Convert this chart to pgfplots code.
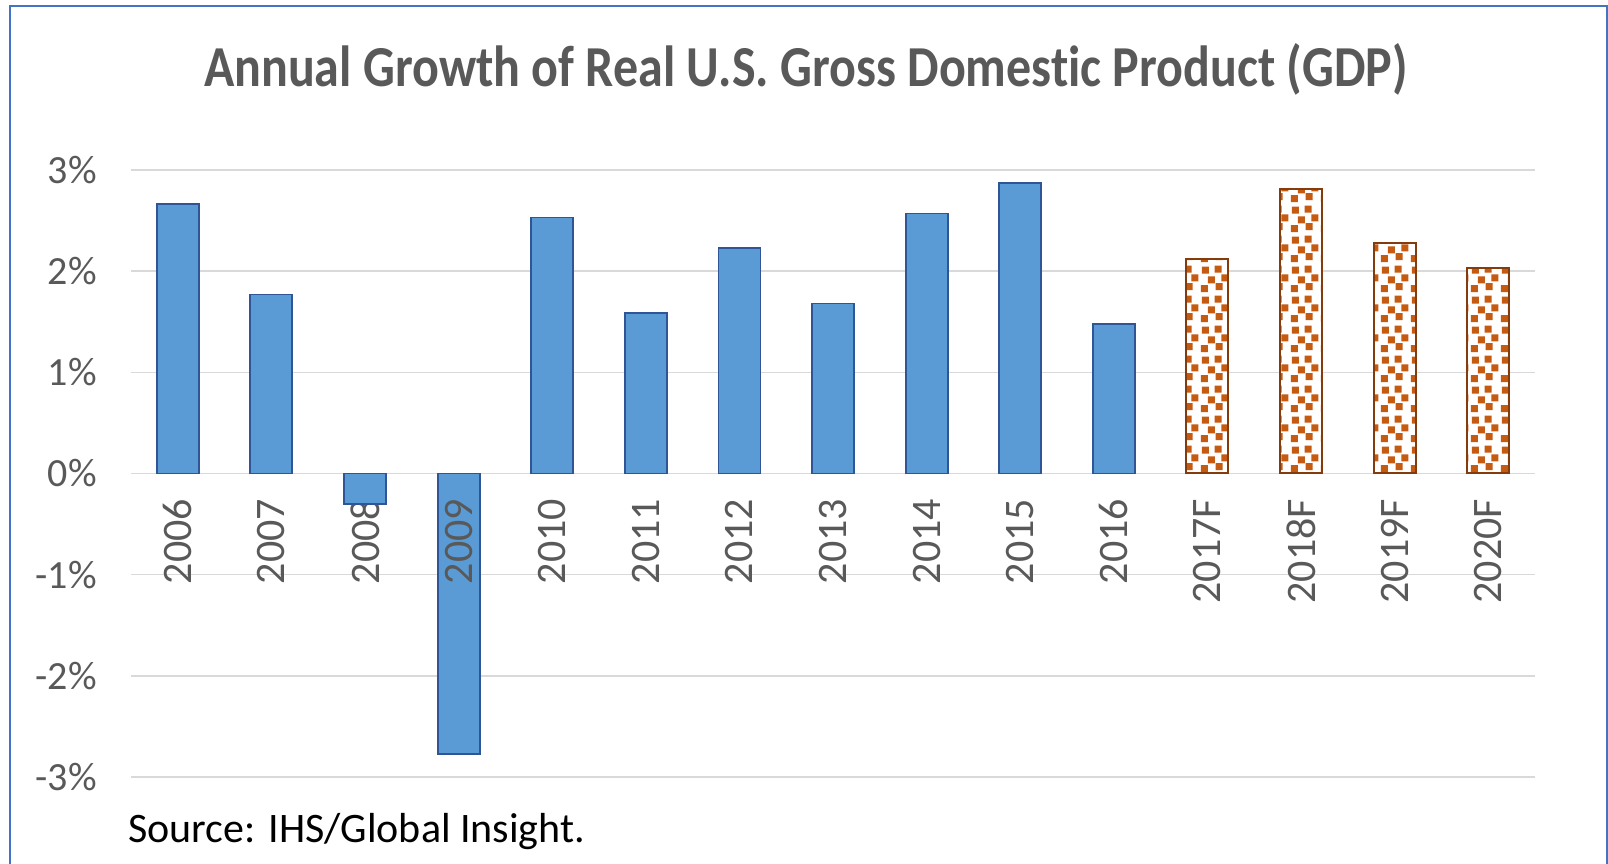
\documentclass[border=0pt]{standalone}
\usepackage{pgfplots}
\pgfplotsset{compat=1.18}
\usepackage{fontspec}
\setmainfont[Ligatures=NoCommon]{Carlito}
\usetikzlibrary{patterns.meta}
\definecolor{barblue}{HTML}{5B9BD5}
\definecolor{bluedge}{HTML}{2F5597}
\definecolor{confet}{HTML}{C55A11}
\definecolor{orangedge}{HTML}{843C0C}
\definecolor{gridgray}{HTML}{D9D9D9}
\definecolor{txtgray}{HTML}{595959}
\definecolor{frameblue}{HTML}{4472C4}
\pgfdeclarepattern{
  name=confetti,
  type=uncolored,
  bottom left={\pgfpoint{0pt}{0pt}},
  top right={\pgfpoint{15pt}{15pt}},
  tile size={\pgfpoint{15pt}{15pt}},
  code={
    \pgfpathrectangle{\pgfpoint{0.5pt}{0.5pt}}{\pgfpoint{3.6pt}{3.6pt}}
    \pgfpathrectangle{\pgfpoint{8pt}{1.5pt}}{\pgfpoint{3.6pt}{3.6pt}}
    \pgfpathrectangle{\pgfpoint{4pt}{5pt}}{\pgfpoint{3.6pt}{3.6pt}}
    \pgfpathrectangle{\pgfpoint{11pt}{6pt}}{\pgfpoint{3.6pt}{3.6pt}}
    \pgfpathrectangle{\pgfpoint{1pt}{10pt}}{\pgfpoint{3.6pt}{3.6pt}}
    \pgfpathrectangle{\pgfpoint{7.5pt}{10.5pt}}{\pgfpoint{3.6pt}{3.6pt}}
    \pgfusepath{fill}
  }
}
\begin{document}
\begin{tikzpicture}
\path[use as bounding box] (0,0) rectangle (804pt,431.5pt);
\draw[frameblue, line width=1pt] (4.75pt,-2pt) -- (4.75pt,428.5pt) -- (803.25pt,428.5pt) -- (803.25pt,-2pt);
\node[anchor=base, text=txtgray, font=\fontsize{29}{34}\selectfont\bfseries] at (403pt,388pt) {\scalebox{0.862}[1]{Annual Growth of Real U.S. Gross Domestic Product (GDP)}};
\node[anchor=base west, inner sep=0pt, font=\fontsize{21}{25}\selectfont] at (64pt,10pt) {Source: IHS/Global Insight.};
\begin{axis}[
  at={(65.5pt,43pt)}, anchor=south west,
  scale only axis, width=702pt, height=303.5pt,
  xmin=-0.5, xmax=14.5, ymin=-3, ymax=3,
  axis x line*=middle, axis y line*=left,
  x axis line style={draw=none}, y axis line style={draw=none},
  hide obscured x ticks=false, hide obscured y ticks=false,
  major tick length=0pt,
  xtick={0,...,14},
  xticklabels={2006,2007,2008,{},2010,2011,2012,2013,2014,2015,2016,2017F,2018F,2019F,2020F},
  ytick={-3,-2,-1,0,1,2,3},
  yticklabels={-3\%,-2\%,-1\%,0\%,1\%,2\%,3\%},
  ymajorgrids, major grid style={draw=gridgray, line width=0.8pt},
  ticklabel style={text=txtgray, inner sep=0pt},
  yticklabel style={font=\fontsize{20}{24}\selectfont},
  xticklabel style={rotate=90, anchor=east, font=\fontsize{21}{25}\selectfont},
  xticklabel shift=12.5pt,
  yticklabel shift=17pt,
  clip=false,
]
\addplot[ybar, bar shift=0pt, bar width=21pt, fill=barblue, draw=bluedge, line width=0.9pt]
  coordinates {(0,2.66) (1,1.77) (2,-0.30) (3,-2.77) (4,2.53) (5,1.59) (6,2.23) (7,1.68) (8,2.57) (9,2.87) (10,1.48)};
\addplot[ybar, bar shift=0pt, bar width=21pt, preaction={fill=white}, pattern={confetti}, pattern color=confet, draw=orangedge, line width=1pt]
  coordinates {(11,2.12) (12,2.81) (13,2.28) (14,2.03)};
\node[rotate=90, anchor=east, inner sep=0pt, text=txtgray, font=\fontsize{21}{25}\selectfont] at ([yshift=-12.5pt]axis cs:3,0) {2009};
\end{axis}
\end{tikzpicture}
\end{document}
